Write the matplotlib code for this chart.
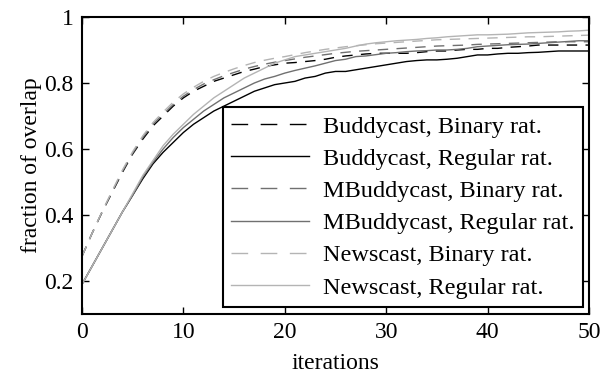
import matplotlib
matplotlib.use("Agg")
import matplotlib.pyplot as plt
from matplotlib.lines import Line2D
from matplotlib.ticker import FixedLocator, FixedFormatter

plt.rcParams['font.family'] = ['Liberation Serif', 'DejaVu Serif']

iterations = list(range(51))

buddy_regular = [0.19, 0.245, 0.30, 0.355, 0.41, 0.46, 0.51, 0.555, 0.59, 0.62,
                 0.65, 0.675, 0.695, 0.715, 0.73, 0.745, 0.76, 0.775, 0.785, 0.795,
                 0.80, 0.805, 0.815, 0.82, 0.83, 0.835, 0.835, 0.84, 0.845, 0.85,
                 0.855, 0.86, 0.865, 0.868, 0.87, 0.87, 0.872, 0.875, 0.88, 0.885,
                 0.885, 0.888, 0.89, 0.89, 0.892, 0.893, 0.895, 0.897, 0.897, 0.897, 0.897]

mbuddy_regular = [0.19, 0.245, 0.30, 0.355, 0.41, 0.46, 0.515, 0.56, 0.60, 0.635,
                  0.665, 0.69, 0.715, 0.735, 0.755, 0.77, 0.785, 0.80, 0.812, 0.82,
                  0.83, 0.838, 0.845, 0.852, 0.86, 0.868, 0.872, 0.88, 0.882, 0.886,
                  0.89, 0.892, 0.895, 0.897, 0.898, 0.90, 0.90, 0.902, 0.905, 0.91,
                  0.912, 0.914, 0.916, 0.917, 0.918, 0.92, 0.922, 0.924, 0.926, 0.928, 0.928]

news_regular = [0.19, 0.245, 0.30, 0.355, 0.41, 0.465, 0.52, 0.565, 0.61, 0.645,
                0.675, 0.705, 0.73, 0.755, 0.775, 0.795, 0.815, 0.83, 0.845, 0.86,
                0.87, 0.88, 0.885, 0.89, 0.895, 0.90, 0.905, 0.912, 0.918, 0.922,
                0.925, 0.928, 0.93, 0.932, 0.935, 0.937, 0.94, 0.942, 0.944, 0.946,
                0.946, 0.947, 0.948, 0.95, 0.952, 0.953, 0.954, 0.955, 0.957, 0.958, 0.96]

buddy_binary = [0.275, 0.345, 0.41, 0.47, 0.53, 0.585, 0.63, 0.67, 0.70, 0.73,
                0.755, 0.775, 0.79, 0.805, 0.815, 0.825, 0.835, 0.842, 0.85, 0.855,
                0.86, 0.862, 0.865, 0.868, 0.872, 0.878, 0.882, 0.885, 0.888, 0.89,
                0.89, 0.89, 0.89, 0.892, 0.895, 0.897, 0.897, 0.90, 0.902, 0.902,
                0.905, 0.905, 0.908, 0.91, 0.912, 0.915, 0.915, 0.915, 0.915, 0.915, 0.915]

mbuddy_binary = [0.275, 0.345, 0.41, 0.472, 0.533, 0.588, 0.635, 0.675, 0.705, 0.735,
                 0.76, 0.78, 0.797, 0.81, 0.822, 0.832, 0.842, 0.85, 0.857, 0.863,
                 0.868, 0.873, 0.878, 0.882, 0.886, 0.89, 0.893, 0.896, 0.898, 0.90,
                 0.902, 0.904, 0.906, 0.908, 0.91, 0.912, 0.913, 0.914, 0.915, 0.917,
                 0.918, 0.919, 0.92, 0.921, 0.922, 0.923, 0.924, 0.925, 0.925, 0.925, 0.925]

news_binary = [0.275, 0.345, 0.412, 0.475, 0.537, 0.592, 0.64, 0.68, 0.712, 0.742,
               0.767, 0.787, 0.805, 0.82, 0.832, 0.843, 0.853, 0.862, 0.869, 0.875,
               0.88, 0.886, 0.892, 0.897, 0.902, 0.906, 0.91, 0.913, 0.916, 0.919,
               0.921, 0.923, 0.925, 0.927, 0.929, 0.931, 0.932, 0.933, 0.934, 0.935,
               0.936, 0.937, 0.938, 0.939, 0.94, 0.94, 0.941, 0.942, 0.943, 0.944, 0.945]

labels = ["Buddycast, Binary rat.", "Buddycast, Regular rat.",
          "MBuddycast, Binary rat.", "MBuddycast, Regular rat.",
          "Newscast, Binary rat.", "Newscast, Regular rat."]

x_ticks = [0, 10, 20, 30, 40, 50]
y_ticks = [0.2, 0.4, 0.6, 0.8, 1.0]
y_tick_labels = ["0.2", "0.4", "0.6", "0.8", "1"]

series = [buddy_binary, buddy_regular, mbuddy_binary, mbuddy_regular, news_binary, news_regular]
colors = ['#000000', '#000000', '#707070', '#707070', '#b4b4b4', '#b4b4b4']
styles = ['dash', 'solid', 'dash', 'solid', 'dash', 'solid']

fig = plt.figure(figsize=(6.11, 3.77), dpi=100)
ax = fig.add_axes([82/611, 1 - 314/377, 507/611, 297/377])

handles = []
for ys, lab, c, st in zip(series, labels, colors, styles):
    if st == 'dash':
        ax.plot(iterations, ys, color=c, lw=1.0, dashes=(7.5, 6))
        handles.append(Line2D([], [], color=c, lw=1.0, dashes=(12, 9), label=lab))
    else:
        ax.plot(iterations, ys, color=c, lw=1.0)
        handles.append(Line2D([], [], color=c, lw=1.0, label=lab))

ax.set_xlim(0, 50)
ax.set_ylim(0.1, 1.0)
ax.xaxis.set_major_locator(FixedLocator(x_ticks))
ax.yaxis.set_major_locator(FixedLocator(y_ticks))
ax.yaxis.set_major_formatter(FixedFormatter(y_tick_labels))
ax.tick_params(direction='in', length=5, width=1, top=True, right=True,
               labelsize=17, pad=6)
for sp in ax.spines.values():
    sp.set_linewidth(1.5)

ax.set_xlabel("iterations", fontsize=17, labelpad=7)
ax.set_ylabel("fraction of overlap", fontsize=17, labelpad=2)

leg = ax.legend(handles=handles, loc='upper left', bbox_to_anchor=(0.278, 0.697),
                borderaxespad=0, fontsize=17.5, frameon=True, fancybox=False,
                shadow=False, handlelength=3.2, handletextpad=0.55,
                labelspacing=0.42, borderpad=0.35)
leg.get_frame().set_edgecolor('black')
leg.get_frame().set_linewidth(1.5)
leg.get_frame().set_alpha(1)

fig.savefig("out.png", dpi=100)
